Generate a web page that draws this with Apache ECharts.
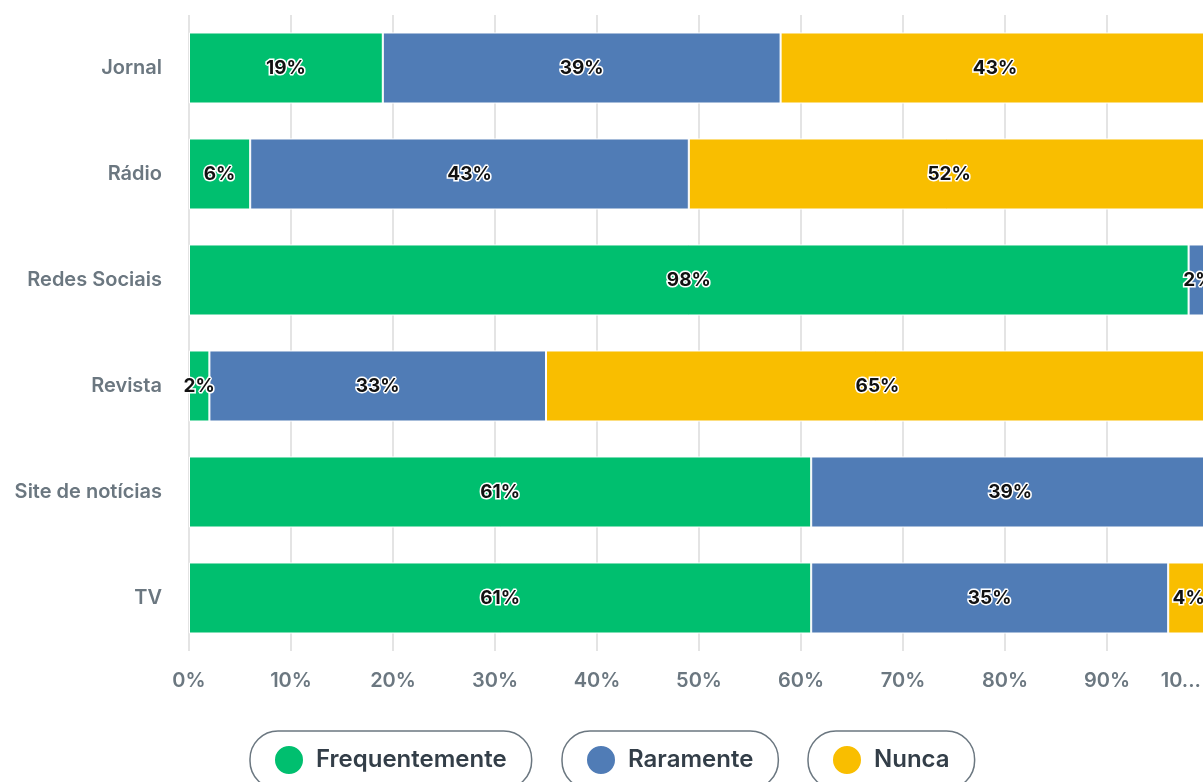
<!DOCTYPE html>
<html>
<head>
<meta charset="utf-8">
<script src="https://cdn.jsdelivr.net/npm/echarts@6/dist/echarts.min.js"></script>
<style>
html,body{margin:0;padding:0;background:#fff;}
#chart{width:1203px;height:782px;}
</style>
</head>
<body>
<div id="chart"></div>
<script>
var categories = ['Jornal', 'Rádio', 'Redes Sociais', 'Revista', 'Site de notícias', 'TV'];
var seriesNames = ['Frequentemente', 'Raramente', 'Nunca'];
var frequentemente = [19, 6, 98, 2, 61, 61];
var raramente = [39, 43, 2, 33, 39, 35];
var nunca = [43, 52, 0, 65, 0, 4];
var xTickLabels = ['0%', '10%', '20%', '30%', '40%', '50%', '60%', '70%', '80%', '90%', '10...'];
var colors = ['#00bf6f', '#507cb6', '#f9be00'];

var font = 'Inter';
var myChart = echarts.init(document.getElementById('chart'));

function makeSeries(name, data, color) {
    return {
        name: name,
        type: 'bar',
        stack: 'total',
        barWidth: '67%',
        data: data,
        itemStyle: { color: color, borderColor: '#fff', borderWidth: 1 },
        label: {
            show: true,
            position: 'inside',
            formatter: function(p) { return p.value ? p.value + '%' : ''; },
            color: '#111',
            fontFamily: font,
            fontSize: 19,
            fontWeight: 'bold',
            textBorderColor: '#fff',
            textBorderWidth: 3
        }
    };
}

function makeLegend(name, left) {
    return {
        data: [name],
        left: left,
        top: 731,
        orient: 'horizontal',
        icon: 'circle',
        itemWidth: 30,
        itemHeight: 30,
        itemGap: 0,
        padding: [13, 25, 13, 23],
        borderColor: '#6b7780',
        borderWidth: 1.5,
        borderRadius: 28,
        textStyle: { color: '#333e48', fontFamily: font, fontSize: 24, fontWeight: 600, padding: [0, 0, 0, 7] }
    };
}

var option = {
    animation: false,
    color: colors,
    grid: { left: 189, right: -6, top: 15, bottom: 131, outerBoundsMode: 'none', containLabel: false },
    legend: [
        makeLegend(seriesNames[0], 250),
        makeLegend(seriesNames[1], 562),
        makeLegend(seriesNames[2], 808)
    ],
    xAxis: {
        type: 'value',
        min: 0,
        max: 100,
        interval: 10,
        axisLine: { show: false },
        axisTick: { show: false },
        splitLine: { show: true, lineStyle: { color: '#e4e4e4', width: 2 } },
        axisLabel: {
            margin: 20,
            color: '#6b7780',
            fontFamily: font,
            fontSize: 20,
            fontWeight: 600,
            formatter: function(v) {
                var i = Math.round(v / 10);
                return i === xTickLabels.length - 1 ? '{last|' + xTickLabels[i] + '}' : xTickLabels[i];
            },
            rich: { last: { padding: [0, 8, 0, 0] } },
            alignMaxLabel: 'right'
        }
    },
    yAxis: {
        type: 'category',
        inverse: true,
        data: categories,
        axisLine: { show: false },
        axisTick: { show: false },
        axisLabel: {
            margin: 27,
            color: '#6b7780',
            fontFamily: font,
            fontSize: 20,
            fontWeight: 600
        }
    },
    series: [
        makeSeries(seriesNames[0], frequentemente, colors[0]),
        makeSeries(seriesNames[1], raramente, colors[1]),
        makeSeries(seriesNames[2], nunca, colors[2])
    ]
};

myChart.setOption(option);
</script>
</body>
</html>
